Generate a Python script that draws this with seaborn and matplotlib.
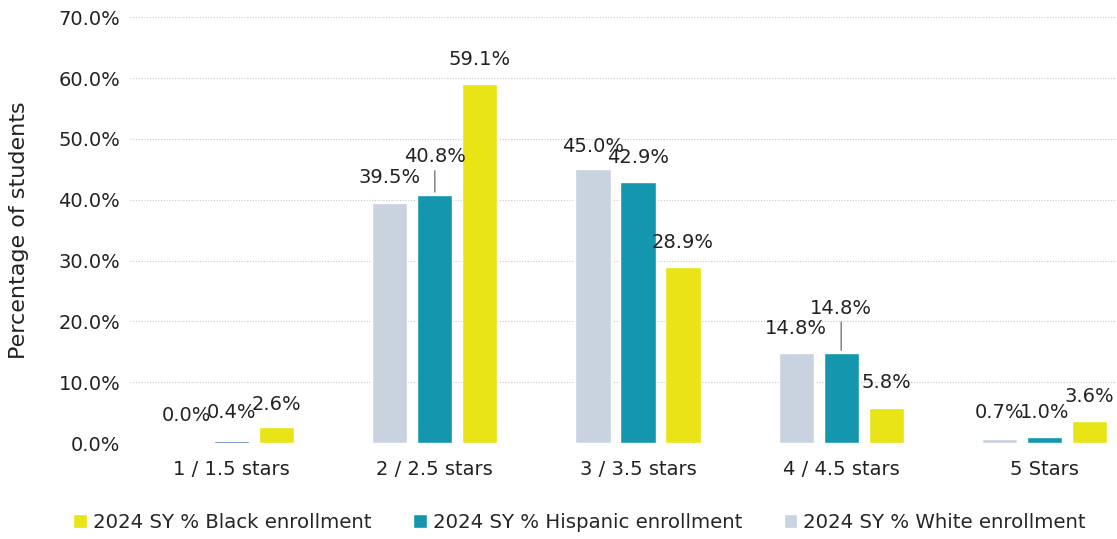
import pandas as pd
import matplotlib.pyplot as plt
import seaborn as sns
from matplotlib.patches import Patch
from matplotlib.ticker import FuncFormatter

# Data
categories = ["1 / 1.5 stars", "2 / 2.5 stars", "3 / 3.5 stars", "4 / 4.5 stars", "5 Stars"]
white_pct = [0.0, 39.5, 45.0, 14.8, 0.7]
hispanic_pct = [0.4, 40.8, 42.9, 14.8, 1.0]
black_pct = [2.6, 59.1, 28.9, 5.8, 3.6]

groups = ["2024 SY % White enrollment", "2024 SY % Hispanic enrollment", "2024 SY % Black enrollment"]
colors = ["#c8d3df", "#1396ae", "#e8e416"]

# data labels sit ~25px above each bar; a few were dragged higher in the original
label_dy = [
    [28, 25, 23, 25, 26],
    [28, 38, 25, 45, 24],
    [23, 24, 25, 25, 25],
]
leader_lines = [(1, 1), (1, 3)]

df = pd.DataFrame({
    "Rating": categories * 3,
    "Group": [groups[0]] * 5 + [groups[1]] * 5 + [groups[2]] * 5,
    "Pct": white_pct + hispanic_pct + black_pct,
})

sns.set_theme(style="white")
plt.rcParams["font.family"] = ["DejaVu Sans"]

fig = plt.figure(figsize=(11.17, 5.39), dpi=100)
# plot area runs a little past the right edge, like the cropped original
ax = fig.add_axes([130 / 1117, 0.178, 1016 / 1117, 0.79])

sns.barplot(data=df, x="Rating", y="Pct", hue="Group", hue_order=groups,
            palette=colors, width=0.665, gap=0.22, legend=False, ax=ax, saturation=1)

# the tiny 0.4% bar shows up in a darker blue in the original
ax.containers[1][0].set_facecolor("#2f62b2")

ax.set_ylim(0, 70)
ax.set_yticks(range(0, 71, 10))
ax.yaxis.set_major_formatter(FuncFormatter(lambda v, p: f"{v:.1f}%"))
ax.grid(axis="y", color="#c8c8c8", linestyle=(0, (1, 1.5)), linewidth=0.8)
ax.set_axisbelow(True)
for s in ax.spines.values():
    s.set_visible(False)
ax.tick_params(axis="both", labelsize=14, colors="#222222", length=0)
ax.tick_params(axis="x", pad=12)
ax.tick_params(axis="y", pad=7)
ax.set_xlabel("")
ax.set_ylabel("Percentage of students", fontsize=16, color="#222222", labelpad=21)

# data labels
for gi, cont in enumerate(ax.containers):
    for ci, bar in enumerate(cont):
        cx = bar.get_x() + bar.get_width() / 2
        h = bar.get_height()
        dy = label_dy[gi][ci]
        ax.annotate(f"{h:.1f}%", xy=(cx, h), xytext=(0, dy), textcoords="offset pixels",
                    ha="center", va="center", fontsize=14, color="#222222")
        if (gi, ci) in leader_lines:
            ax.annotate("", xy=(cx, h), xytext=(0, dy - 14), textcoords="offset pixels",
                        arrowprops=dict(arrowstyle="-", color="#777777", lw=1,
                                        shrinkA=0, shrinkB=2))

# legend: Black, Hispanic, White
handles = [Patch(facecolor=colors[i], label=groups[i]) for i in [2, 1, 0]]
fig.legend(handles=handles, loc="center", bbox_to_anchor=(0.519, 1 - 522 / 539), ncol=3,
           frameon=False, fontsize=14.2, handlelength=0.7, handleheight=0.7,
           handletextpad=0.3, columnspacing=2.1)

fig.savefig("out.png", dpi=100)
